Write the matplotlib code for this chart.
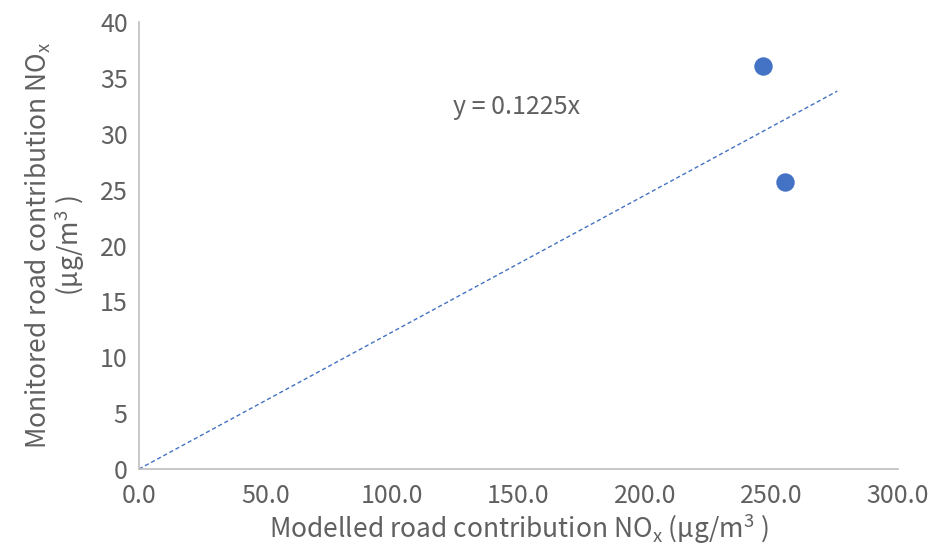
import matplotlib
matplotlib.use('Agg')
import matplotlib.pyplot as plt

modelled = [246.5, 255.5]
monitored = [36.1, 25.7]
slope = 0.1225
trend_x = [0.0, 276.0]
x_ticks = [0, 50, 100, 150, 200, 250, 300]
y_ticks = [0, 5, 10, 15, 20, 25, 30, 35, 40]

plt.rcParams['font.family'] = ['Noto Sans CJK KR', 'DejaVu Sans']
plt.rcParams['mathtext.default'] = 'regular'
grey = '#606060'

fig = plt.figure(figsize=(9.32, 5.48), dpi=100)
ax = fig.add_axes([0.149, 0.144, 0.8145, 0.816])

ax.plot(trend_x, [slope * v for v in trend_x], ls=(0, (3, 2)), lw=1, color='#4472c4')
ax.scatter(modelled, monitored, s=150, color='#4472c4', zorder=3)
ax.text(124, 32.4, 'y = 0.1225x', fontsize=18, color=grey, va='center')

ax.set_xlim(0, 300)
ax.set_ylim(0, 40)
ax.set_xticks(x_ticks)
ax.set_xticklabels(['%.1f' % v for v in x_ticks])
ax.set_yticks(y_ticks)
ax.tick_params(length=0, labelsize=18, colors=grey)
ax.tick_params(axis='x', pad=10)
ax.tick_params(axis='y', pad=8)
for pos in ['right', 'top']:
    ax.spines[pos].set_visible(False)
for pos in ['left', 'bottom']:
    ax.spines[pos].set_color('#bfbfbf')
    ax.spines[pos].set_linewidth(1.2)

ax.set_xlabel('Modelled road contribution NO$_x$ (µg/m$^3$ )', fontsize=19, color=grey, labelpad=2)
ax.set_ylabel('Monitored road contribution NO$_x$\n(µg/m$^3$ )', fontsize=19, color=grey, labelpad=9, linespacing=1.0)

fig.savefig('out.png', dpi=100)
